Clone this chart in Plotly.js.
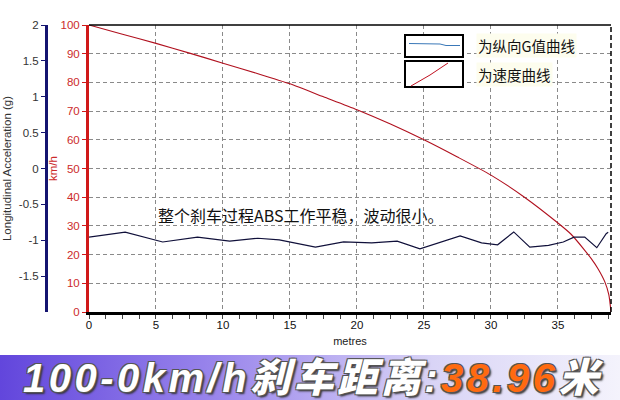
<!DOCTYPE html>
<html>
<head>
<meta charset="utf-8">
<script src="https://cdn.plot.ly/plotly-3.0.1.min.js"></script>
<style>html,body{margin:0;padding:0;background:#fff;}#chart{width:620px;height:400px;}</style>
</head>
<body>
<div id="chart"></div>
<script>
// distance (metres) for the G curve
const gDist = [0, 2.06, 2.7, 5.5, 8.1, 10.5, 12.6, 14.2, 16.9, 19.0, 21.1, 23.0, 24.7, 27.7, 29.3, 30.5, 31.7, 32.9, 34.3, 35.4, 36.2, 37.0, 37.9, 38.6, 38.75];
// longitudinal acceleration (g)
const gVals = [-0.956, -0.908, -0.888, -1.024, -0.956, -1.012, -0.972, -0.996, -1.096, -1.024, -1.036, -1.012, -1.12, -0.94, -1.036, -1.064, -0.884, -1.096, -1.072, -1.024, -0.956, -0.956, -1.104, -0.908, -0.888];
// distance (metres) for the speed curve
const vDist = [0, 2.5, 5, 7.5, 10, 12.5, 15, 17.5, 20, 22.5, 25, 27.5, 30, 32.5, 35, 36, 37, 37.5, 38, 38.5, 38.8, 38.96];
// speed (km/h)
const vVals = [100, 96.8, 93.6, 90.2, 86.7, 83.2, 79.5, 75, 70.5, 65.5, 60, 54, 47.7, 40, 31, 27, 21.5, 18.5, 15, 10.5, 6, 0];

const kmhTicks = [0, 10, 20, 30, 40, 50, 60, 70, 80, 90, 100];
const gTicks = [-1.5, -1, -0.5, 0, 0.5, 1, 1.5, 2];
const gTickText = ['-1.5', '-1', '-0.5', '0', '0.5', '1', '1.5', '2'];
const xTicks = [0, 5, 10, 15, 20, 25, 30, 35];

const legendText = ['为纵向G值曲线', '为速度曲线'];
const noteText = '整个刹车过程ABS工作平稳，波动很小。';
const bannerMain = '100-0km/h刹车距离:';
const bannerNum = '38.96';
const bannerUnit = '米';

const W = 620, H = 400;
const px = v => v / W;
const py = v => 1 - v / H;

const bannerSvg = '<svg xmlns="http://www.w3.org/2000/svg" width="620" height="45" preserveAspectRatio="none">' +
  '<defs><linearGradient id="g" x1="0" y1="0" x2="1" y2="0">' +
  '<stop offset="0" stop-color="#6246dc"/><stop offset="0.35" stop-color="#9a86ec"/>' +
  '<stop offset="0.7" stop-color="#d9d4f6"/><stop offset="1" stop-color="#f4f3fc"/>' +
  '</linearGradient></defs><rect width="620" height="45" fill="url(#g)"/></svg>';
const bannerUri = 'data:image/svg+xml;charset=utf-8,' + encodeURIComponent(bannerSvg);

const traces = [
  {
    x: gDist, y: gVals, yaxis: 'y2', type: 'scatter', mode: 'lines',
    line: {color: '#10103a', width: 1.2}, hoverinfo: 'skip', showlegend: false
  },
  {
    x: vDist, y: vVals, yaxis: 'y', type: 'scatter', mode: 'lines',
    line: {color: '#b0101e', width: 1.1, shape: 'spline', smoothing: 0.6}, hoverinfo: 'skip', showlegend: false
  }
];

const tickFont = {family: 'Liberation Sans, Arial, sans-serif', size: 11.5};
const gridDash = '4px,3px';

const layout = {
  width: W, height: H,
  margin: {l: 0, r: 0, t: 0, b: 0},
  paper_bgcolor: '#ffffff', plot_bgcolor: '#ffffff',
  showlegend: false,
  xaxis: {
    domain: [px(89), px(611)],
    range: [0, 38.96],
    tickvals: xTicks,
    ticktext: xTicks.map(String),
    tickfont: Object.assign({color: '#111'}, tickFont),
    showline: true, linecolor: '#000', linewidth: 3,
    ticks: '',
    minor: {dtick: 1.25, ticks: 'outside', ticklen: 4, tickcolor: '#444', showgrid: false},
    showgrid: true, gridcolor: '#8a8a8a', griddash: gridDash, gridwidth: 1,
    zeroline: false,
    title: {text: 'metres', font: {family: 'Liberation Sans, Arial, sans-serif', size: 11, color: '#222'}, standoff: 8},
    fixedrange: true
  },
  yaxis: {
    domain: [1 - 312 / H, 1 - 25 / H],
    range: [0, 100],
    tickvals: kmhTicks,
    ticktext: kmhTicks.map(String),
    tickfont: Object.assign({color: '#cc2a2a'}, tickFont),
    showline: true, linecolor: '#d01818', linewidth: 3,
    ticks: 'outside', ticklen: 4, tickcolor: '#d01818',
    showgrid: true, gridcolor: '#8a8a8a', griddash: gridDash, gridwidth: 1,
    zeroline: false,
    title: {text: 'km/h', font: {family: 'Liberation Sans, Arial, sans-serif', size: 11.5, color: '#cc2a2a'}, standoff: 1},
    fixedrange: true
  },
  yaxis2: {
    overlaying: 'y', anchor: 'free', side: 'left', position: px(46),
    range: [-2, 2],
    tickvals: gTicks,
    ticktext: gTickText,
    tickfont: Object.assign({color: '#333'}, tickFont),
    showline: true, linecolor: '#141470', linewidth: 2.5,
    ticks: 'outside', ticklen: 4, tickcolor: '#141470',
    showgrid: false, zeroline: false,
    title: {text: 'Longitudinal Acceleration (g)', font: {family: 'Liberation Sans, Arial, sans-serif', size: 11.5, color: '#333'}, standoff: 4},
    fixedrange: true
  },
  images: [{
    source: bannerUri, xref: 'paper', yref: 'paper',
    x: 0, y: py(355), sizex: 1, sizey: 45 / H,
    sizing: 'stretch', xanchor: 'left', yanchor: 'top', layer: 'below'
  }],
  shapes: [
    {type: 'line', xref: 'x domain', yref: 'y domain', x0: 0, x1: 1, y0: 1, y1: 1, line: {color: '#000', width: 1.5}},
    {type: 'line', xref: 'x domain', yref: 'y domain', x0: 1, x1: 1, y0: 0, y1: 1, line: {color: '#000', width: 1.5, dash: '5px,3px'}},
    {type: 'rect', xref: 'paper', yref: 'paper', x0: px(405), x1: px(463), y0: py(57), y1: py(35), line: {color: '#000', width: 2}, fillcolor: '#fff'},
    {type: 'rect', xref: 'paper', yref: 'paper', x0: px(405), x1: px(463), y0: py(87), y1: py(61), line: {color: '#000', width: 2}, fillcolor: '#fff'},
    {type: 'path', xref: 'paper', yref: 'paper',
      path: 'M ' + px(409) + ' ' + py(43.5) + ' L ' + px(440) + ' ' + py(44) + ' L ' + px(446) + ' ' + py(45.5) + ' L ' + px(460) + ' ' + py(45.5),
      line: {color: '#3a78b8', width: 1}},
    {type: 'path', xref: 'paper', yref: 'paper',
      path: 'M ' + px(411) + ' ' + py(86) + ' L ' + px(430) + ' ' + py(75) + ' L ' + px(448) + ' ' + py(63),
      line: {color: '#c01020', width: 1}}
  ],
  annotations: [
    {xref: 'paper', yref: 'paper', x: px(476), y: py(45), xanchor: 'left', yanchor: 'middle',
      text: legendText[0], showarrow: false, bgcolor: '#fdfdee',
      font: {family: 'Noto Sans CJK SC', size: 14.5, color: '#111'}},
    {xref: 'paper', yref: 'paper', x: px(476), y: py(74), xanchor: 'left', yanchor: 'middle',
      text: legendText[1], showarrow: false, bgcolor: '#fdfdee',
      font: {family: 'Noto Sans CJK SC', size: 14.5, color: '#111'}},
    {xref: 'paper', yref: 'paper', x: px(156), y: py(215), xanchor: 'left', yanchor: 'middle',
      text: noteText, showarrow: false,
      font: {family: 'Noto Sans CJK SC', size: 16, color: '#111'}},
    {xref: 'paper', yref: 'paper', x: px(313), y: py(378), xanchor: 'center', yanchor: 'middle',
      text: '<span style="letter-spacing:3.5px">' + bannerMain + '<span style="color:#ff6a10">' + bannerNum + '</span>' + bannerUnit + '</span>',
      showarrow: false,
      font: {family: 'Liberation Sans, Noto Sans CJK SC, sans-serif', size: 40, color: '#ffffff', weight: 900, style: 'italic',
        shadow: '-1px -1px 0 #555, 1px -1px 0 #555, -1px 1px 0 #555, 1px 1px 0 #555, 2px 2px 2px #333'}}
  ]
};

Plotly.newPlot('chart', traces, layout, {staticPlot: true, displayModeBar: false});
</script>
</body>
</html>
